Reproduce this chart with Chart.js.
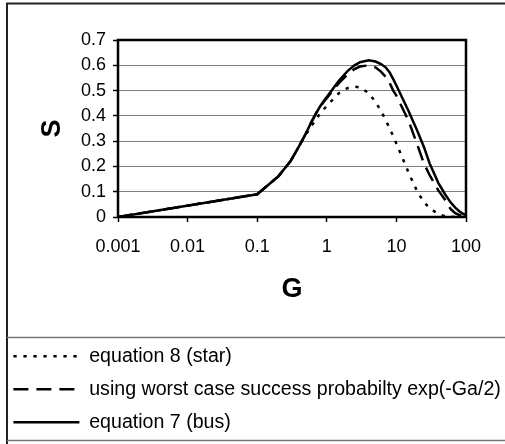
<!DOCTYPE html>
<html>
<head>
<meta charset="utf-8">
<script src="https://cdn.jsdelivr.net/npm/chart.js@4.4.0/dist/chart.umd.min.js"></script>
<style>
  html, body { margin: 0; padding: 0; background: #fff; }
  canvas { display: block; }
</style>
</head>
<body>
<canvas id="chartS" width="505" height="444"></canvas>
<script>
// G values (log axis) and the three S curves
const gValues = [0.001, 0.1, 0.2, 0.3, 0.4, 0.5, 0.6, 0.7, 0.8, 0.9, 1, 1.5, 2, 2.5, 3, 4, 5, 6, 7, 8, 9, 10, 15, 20, 25, 30, 40, 50, 60, 70, 80, 90, 100];
const starS  = [0, 0.09, 0.16, 0.22, 0.28, 0.325, 0.36, 0.385, 0.41, 0.425, 0.44, 0.49, 0.51, 0.515, 0.513, 0.49, 0.455, 0.42, 0.385, 0.35, 0.32, 0.29, 0.175, 0.10, 0.058, 0.035, 0.012, 0.003, 0.001, 0, 0, 0, 0];
const worstS = [0, 0.09, 0.16, 0.22, 0.28, 0.33, 0.375, 0.41, 0.435, 0.455, 0.47, 0.53, 0.565, 0.585, 0.595, 0.60, 0.592, 0.575, 0.555, 0.53, 0.50, 0.48, 0.38, 0.285, 0.21, 0.166, 0.105, 0.068, 0.032, 0.015, 0.008, 0.004, 0.003];
const busS   = [0, 0.09, 0.16, 0.22, 0.28, 0.33, 0.375, 0.41, 0.437, 0.458, 0.475, 0.54, 0.578, 0.60, 0.612, 0.62, 0.615, 0.605, 0.592, 0.572, 0.545, 0.52, 0.418, 0.34, 0.275, 0.212, 0.135, 0.09, 0.058, 0.037, 0.023, 0.013, 0.008];
const seriesNames = ["equation 8 (star)", "using worst case success probabilty exp(-Ga/2)", "equation 7 (bus)"];
const xTicks = [0.001, 0.01, 0.1, 1, 10, 100];

const toPoints = (ys) => gValues.map((g, i) => ({ x: g, y: ys[i] }));

Chart.defaults.font.family = "'Liberation Sans', Arial, sans-serif";
Chart.defaults.color = "#000";

// frame round the whole chart, the plot box and the legend box
const framePlugin = {
  id: "frame",
  beforeDraw(chart) {
    const ctx = chart.ctx;
    ctx.save();
    ctx.fillStyle = "#fff";
    ctx.fillRect(0, 0, chart.width, chart.height);
    ctx.restore();
  },
  afterDraw(chart) {
    const { ctx, chartArea: a } = chart;
    ctx.save();
    ctx.strokeStyle = "#000";
    ctx.lineWidth = 2.5;
    ctx.strokeRect(a.left, a.top, a.right - a.left, a.bottom - a.top);

    ctx.strokeStyle = "#222";
    ctx.lineWidth = 2;
    ctx.beginPath();
    ctx.moveTo(7, chart.height);
    ctx.lineTo(7, 3.5);
    ctx.lineTo(chart.width, 3.5);
    ctx.stroke();

    ctx.strokeStyle = "#777";
    ctx.lineWidth = 1.5;
    ctx.beginPath();
    ctx.moveTo(7, 337.5);
    ctx.lineTo(chart.width, 337.5);
    ctx.moveTo(7, 440.5);
    ctx.lineTo(chart.width, 440.5);
    ctx.stroke();
    ctx.restore();
  },
};

new Chart(document.getElementById("chartS").getContext("2d"), {
  type: "line",
  data: {
    datasets: [
      {
        label: seriesNames[0],
        data: toPoints(starS),
        borderColor: "#000",
        borderWidth: 2.5,
        borderDash: [3.3, 6.7],
      },
      {
        label: seriesNames[1],
        data: toPoints(worstS),
        borderColor: "#000",
        borderWidth: 2.5,
        borderDash: [15, 8],
      },
      {
        label: seriesNames[2],
        data: toPoints(busS),
        borderColor: "#000",
        borderWidth: 2.5,
      },
    ],
  },
  options: {
    responsive: false,
    animation: false,
    elements: {
      point: { radius: 0, hoverRadius: 0 },
      line: { tension: 0 },
    },
    layout: { padding: { left: 0, right: 0, top: 40, bottom: 2 } },
    plugins: {
      tooltip: { enabled: false },
      legend: {
        position: "bottom",
        align: "start",
        labels: {
          usePointStyle: true,
          pointStyle: "line",
          pointStyleWidth: 66,
          padding: 13.4,
          font: { size: 19.6 },
          color: "#000",
          generateLabels: (chart) =>
            chart.data.datasets.map((ds, i) => ({
              text: ds.label,
              fillStyle: "rgba(0,0,0,0)",
              strokeStyle: ds.borderColor,
              lineWidth: ds.borderWidth,
              lineDash: ds.borderDash || [],
              pointStyle: "line",
              hidden: false,
              datasetIndex: i,
            })),
        },
      },
    },
    scales: {
      x: {
        type: "logarithmic",
        min: 0.001,
        max: 100,
        afterBuildTicks: (scale) => {
          scale.ticks = xTicks.map((v) => ({ value: v }));
        },
        afterFit: (scale) => {
          scale.height = 116;
        },
        ticks: {
          callback: (v) => String(v),
          font: { size: 18 },
          padding: 14,
          maxRotation: 0,
          autoSkip: false,
        },
        grid: { drawOnChartArea: false, tickColor: "#000", tickLength: 5, tickWidth: 1.5 },
        border: { color: "#000", width: 2 },
        title: {
          display: true,
          text: "G",
          font: { size: 27, weight: "bold" },
          padding: { top: 10, bottom: 27 },
        },
      },
      y: {
        min: 0,
        max: 0.7,
        afterFit: (scale) => {
          scale.width = 118;
        },
        ticks: {
          stepSize: 0.1,
          font: { size: 18 },
          padding: 7,
        },
        grid: { color: "#808080", lineWidth: 1, tickColor: "#000", tickLength: 5, tickWidth: 1.5 },
        border: { color: "#000", width: 2 },
        title: {
          display: true,
          text: "S",
          font: { size: 27, weight: "bold" },
          padding: { top: 36, bottom: 10 },
        },
      },
      // empty right-hand axis that only keeps the margin right of the plot
      yRight: {
        position: "right",
        afterFit: (scale) => {
          scale.width = 39;
        },
        ticks: { display: false },
        grid: { display: false },
        border: { display: false },
      },
    },
  },
  plugins: [framePlugin],
});
</script>
</body>
</html>
